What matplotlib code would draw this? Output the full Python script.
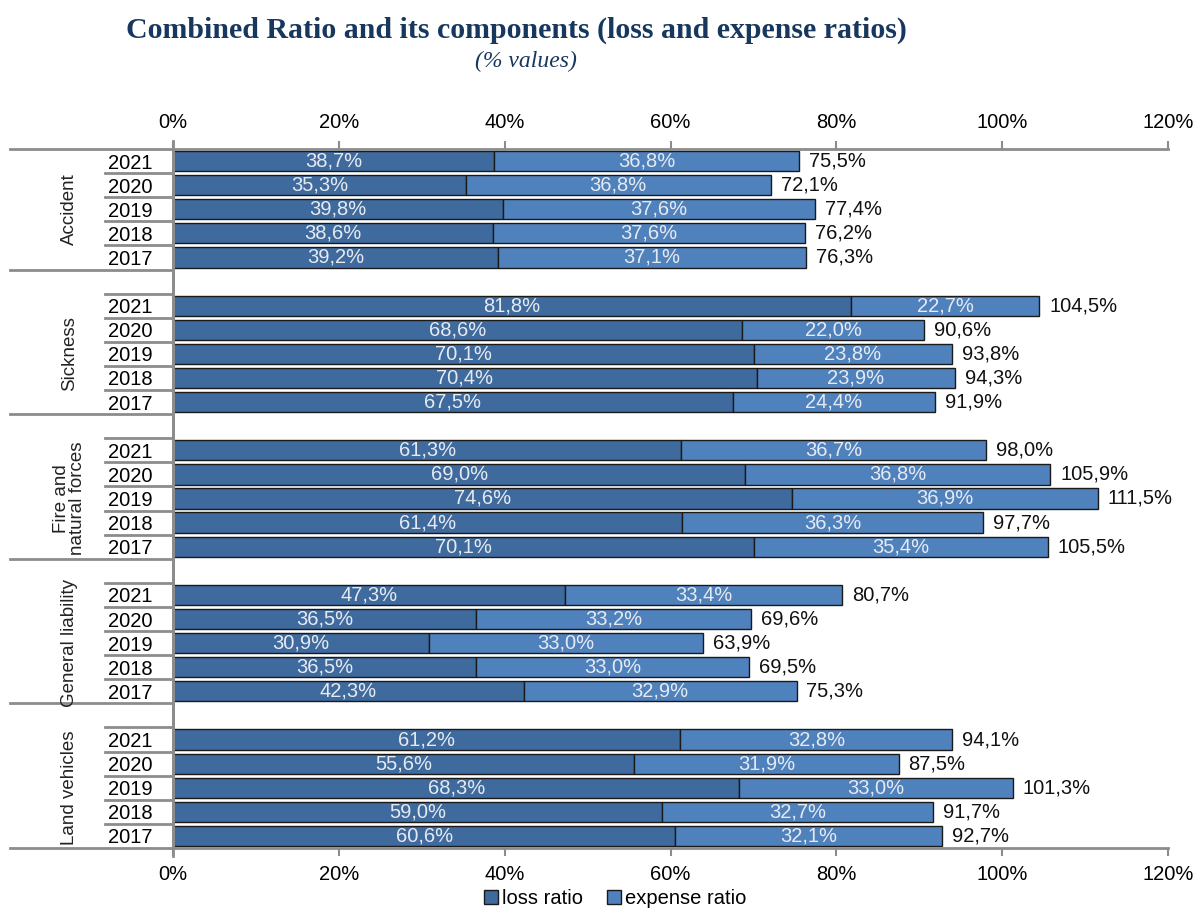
import matplotlib.pyplot as plt
from matplotlib.transforms import blended_transform_factory

groups = ["Accident", "Sickness", "Fire and\nnatural forces", "General liability", "Land vehicles"]
years = ["2021", "2020", "2019", "2018", "2017"]

loss_ratio = [
    [38.7, 35.3, 39.8, 38.6, 39.2],
    [81.8, 68.6, 70.1, 70.4, 67.5],
    [61.3, 69.0, 74.6, 61.4, 70.1],
    [47.3, 36.5, 30.9, 36.5, 42.3],
    [61.2, 55.6, 68.3, 59.0, 60.6],
]
expense_ratio = [
    [36.8, 36.8, 37.6, 37.6, 37.1],
    [22.7, 22.0, 23.8, 23.9, 24.4],
    [36.7, 36.8, 36.9, 36.3, 35.4],
    [33.4, 33.2, 33.0, 33.0, 32.9],
    [32.8, 31.9, 33.0, 32.7, 32.1],
]
combined_ratio = [
    [75.5, 72.1, 77.4, 76.2, 76.3],
    [104.5, 90.6, 93.8, 94.3, 91.9],
    [98.0, 105.9, 111.5, 97.7, 105.5],
    [80.7, 69.6, 63.9, 69.5, 75.3],
    [94.1, 87.5, 101.3, 91.7, 92.7],
]

loss_color = "#3F6A9E"
exp_color = "#4F81BD"
line_gray = "#8C8C8C"
navy = "#17375E"

plt.rcParams["font.family"] = ["Liberation Sans", "DejaVu Sans"]

fig = plt.figure(figsize=(12.04, 9.13), dpi=100)
ax = fig.add_axes([0.1437, 0.0712, 0.8264, 0.7656])


def pct(v):
    return f"{v:.1f}%".replace(".", ",")


# slot positions: first group has no blank row on top, the others do
pos = []
slot = 0
for g in range(len(groups)):
    if g > 0:
        slot += 1
    pos.append(list(range(slot, slot + len(years))))
    slot += len(years)

for g in range(len(groups)):
    y = pos[g]
    ax.barh(y, loss_ratio[g], height=0.84, color=loss_color, edgecolor="#1a1a1a", linewidth=1,
            label="loss ratio" if g == 0 else None)
    ax.barh(y, expense_ratio[g], left=loss_ratio[g], height=0.84, color=exp_color,
            edgecolor="#1a1a1a", linewidth=1, label="expense ratio" if g == 0 else None)
    for i in range(len(years)):
        l, e = loss_ratio[g][i], expense_ratio[g][i]
        ax.text(l / 2, y[i], pct(l), ha="center", va="center", color="#E6EAF0", fontsize=14.5)
        ax.text(l + e / 2, y[i], pct(e), ha="center", va="center", color="#E6EAF0", fontsize=14.5)
        ax.text(l + e + 1.2, y[i], pct(combined_ratio[g][i]), ha="left", va="center",
                color="#111111", fontsize=14.5)

ax.set_xlim(0, 120)
ax.set_ylim(slot - 0.5, -0.5)
ax.set_xticks(range(0, 121, 20))
ax.set_xticklabels([f"{t}%" for t in range(0, 121, 20)])
ax.tick_params(axis="x", which="both", top=True, labeltop=True, direction="out",
               length=6, width=1.5, color=line_gray, labelsize=14.5, pad=6)

all_pos = [p for grp in pos for p in grp]
ax.set_yticks(all_pos)
ax.set_yticklabels(years * len(groups))
ax.tick_params(axis="y", length=0, labelsize=14.5, pad=15)

for s in ["top", "bottom", "right"]:
    ax.spines[s].set_visible(False)
ax.spines["left"].set_color(line_gray)
ax.spines["left"].set_linewidth(2)

# axis lines reaching into the category label area
ax.plot([-0.164, 1.0], [1, 1], transform=ax.transAxes, color=line_gray, lw=2, clip_on=False)
ax.plot([-0.164, 1.0], [0, 0], transform=ax.transAxes, color=line_gray, lw=2, clip_on=False)
ax.plot([0, 0], [-0.012, 1.012], transform=ax.transAxes, color=line_gray, lw=2, clip_on=False)

tr = blended_transform_factory(ax.transAxes, ax.transData)
for g in range(len(groups)):
    y = pos[g]
    seps = [p + 0.5 for p in y[:-1]]
    if g > 0:
        seps.append(y[0] - 0.5)
    for s in seps:
        ax.plot([-0.068, 0], [s, s], transform=tr, color=line_gray, lw=2, clip_on=False)
    if g < len(groups) - 1:
        ax.plot([-0.164, 0], [y[-1] + 0.5] * 2, transform=tr, color=line_gray, lw=2, clip_on=False)
    ax.text(-0.104, (y[0] + y[-1]) / 2, groups[g], transform=tr, rotation=90,
            ha="center", va="center", fontsize=13.5, color="#222222", linespacing=0.95)

fig.text(0.4286, 0.967, "Combined Ratio and its components (loss and expense ratios)",
         ha="center", va="center", fontsize=21.5, fontweight="bold", color=navy,
         family=["Liberation Serif", "DejaVu Serif"])
fig.text(0.437, 0.933, "(% values)", ha="center", va="center", fontsize=17, style="italic",
         color=navy, family=["Liberation Serif", "DejaVu Serif"])

fig.legend(loc="center", bbox_to_anchor=(0.511, 0.016), ncol=2, frameon=False, fontsize=14.5,
           handlelength=0.7, handleheight=0.7, handletextpad=0.2, columnspacing=1.2,
           borderaxespad=0)

fig.savefig("out.png", dpi=100)
